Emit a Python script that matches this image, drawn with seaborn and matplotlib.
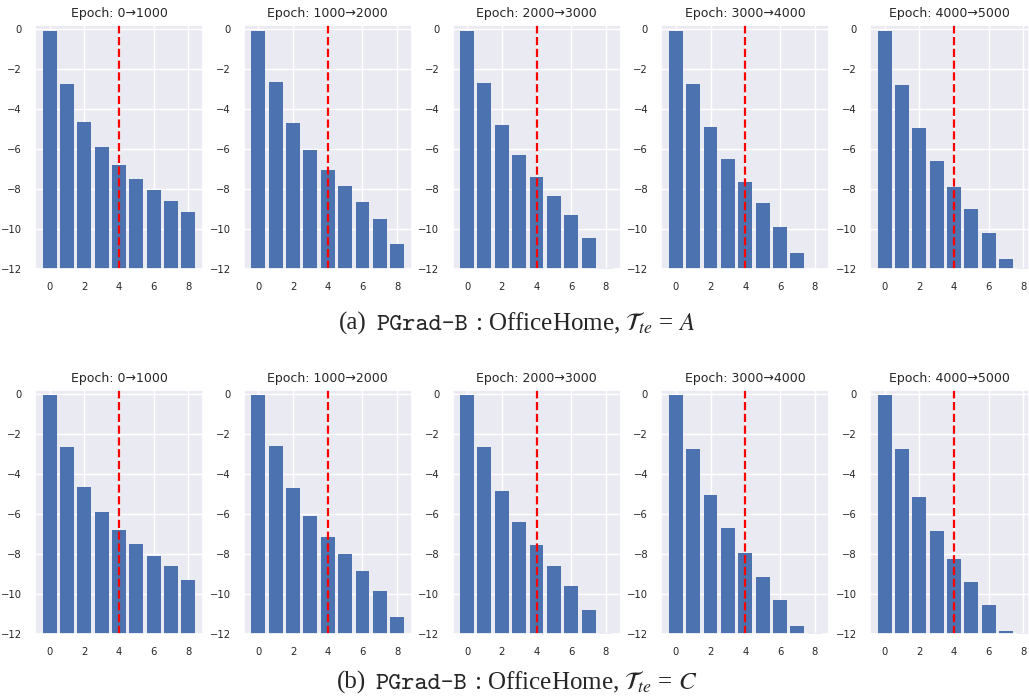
import numpy as np
import seaborn as sns
import matplotlib
matplotlib.use("Agg")
import matplotlib.pyplot as plt

# bar tops, one list per panel (indices 0..8)
epochs = ["0\u21921000", "1000\u21922000", "2000\u21923000", "3000\u21924000", "4000\u21925000"]
idx = np.arange(9)

row_a = [
    [-0.08, -2.73, -4.65, -5.92, -6.82, -7.48, -8.03, -8.58, -9.17],
    [-0.08, -2.63, -4.68, -6.03, -7.03, -7.83, -8.63, -9.48, -10.73],
    [-0.08, -2.68, -4.78, -6.28, -7.38, -8.33, -9.28, -10.43, -11.94],
    [-0.08, -2.73, -4.92, -6.48, -7.67, -8.72, -9.88, -11.18, -12.0],
    [-0.08, -2.78, -4.97, -6.58, -7.88, -8.98, -10.18, -11.52, -11.94],
]
row_c = [
    [-0.07, -2.67, -4.67, -5.90, -6.82, -7.52, -8.12, -8.62, -9.32],
    [-0.07, -2.62, -4.72, -6.12, -7.17, -8.02, -8.87, -9.87, -11.17],
    [-0.07, -2.67, -4.87, -6.40, -7.57, -8.62, -9.62, -10.82, -11.94],
    [-0.07, -2.77, -5.07, -6.72, -7.97, -9.17, -10.32, -11.62, -11.94],
    [-0.07, -2.77, -5.17, -6.85, -8.27, -9.42, -10.57, -11.85, -11.94],
]
rows = [("a", "A", row_a), ("b", "C", row_c)]

YMIN = -12
BASE = -12.1  # bars start just under the axis floor

sns.set_theme(style="darkgrid")
plt.rcParams["mathtext.fontset"] = "stix"
plt.rcParams["xtick.labelsize"] = 7.2
plt.rcParams["ytick.labelsize"] = 7.2

W, H = 1029, 696
fig = plt.figure(figsize=(W / 100, H / 100), dpi=100)
fig.patch.set_facecolor("white")

blue = sns.color_palette("deep")[0]
lefts = [35 + 208.75 * i for i in range(5)]
row_tops = [25, 390]

for r, (lab, dom, data) in enumerate(rows):
    top = row_tops[r]
    for i in range(5):
        w = 168 if i < 4 else W - lefts[i]
        ax = fig.add_axes([lefts[i] / W, 1 - (top + 244) / H, w / W, 244 / H])
        vals = np.array(data[i])
        sns.barplot(x=idx, y=vals - BASE, bottom=BASE, native_scale=True,
                    color=blue, saturation=1, width=0.8, linewidth=0, ax=ax)
        ax.axvline(4, color="red", ls="--", lw=1.6)
        ax.set_ylim(YMIN, 0.2)
        ax.set_yticks(np.arange(-12, 1, 2))
        ax.set_xticks([0, 2, 4, 6, 8])
        ax.set_xticklabels(["0", "2", "4", "6", "8"])
        right = 8.84 if i < 4 else -0.84 + w / 17.36
        ax.set_xlim(-0.84, right)
        ax.grid(True, axis="both")
        ax.set_xlabel("")
        ax.set_ylabel("")
        ax.set_title("Epoch: " + epochs[i], fontsize=9)

# captions: mixed serif / typewriter like the LaTeX subcaption
renderer = fig.canvas.get_renderer()
cap_y = [330, 689]
for r, (lab, dom, data) in enumerate(rows):
    y = 1 - cap_y[r] / H
    parts = [
        ("(%s)" % lab, "Liberation Serif", 9),
        ("PGrad-B", "cmtt10", 7),
        (": OfficeHome, $\\mathcal{T}_{te}$ = $%s$" % dom, "Liberation Serif", 0),
    ]
    texts, widths = [], []
    for s, fam, gap in parts:
        t = fig.text(0, y, s, family=fam, fontsize=18, ha="left", va="baseline")
        widths.append(t.get_window_extent(renderer).width)
        texts.append((t, gap))
    total = sum(widths) + sum(g for _, g in texts)
    x = 517 - total / 2
    for (t, gap), wd in zip(texts, widths):
        t.set_x(x / W)
        x += wd + gap

fig.savefig("out.png", dpi=100)
